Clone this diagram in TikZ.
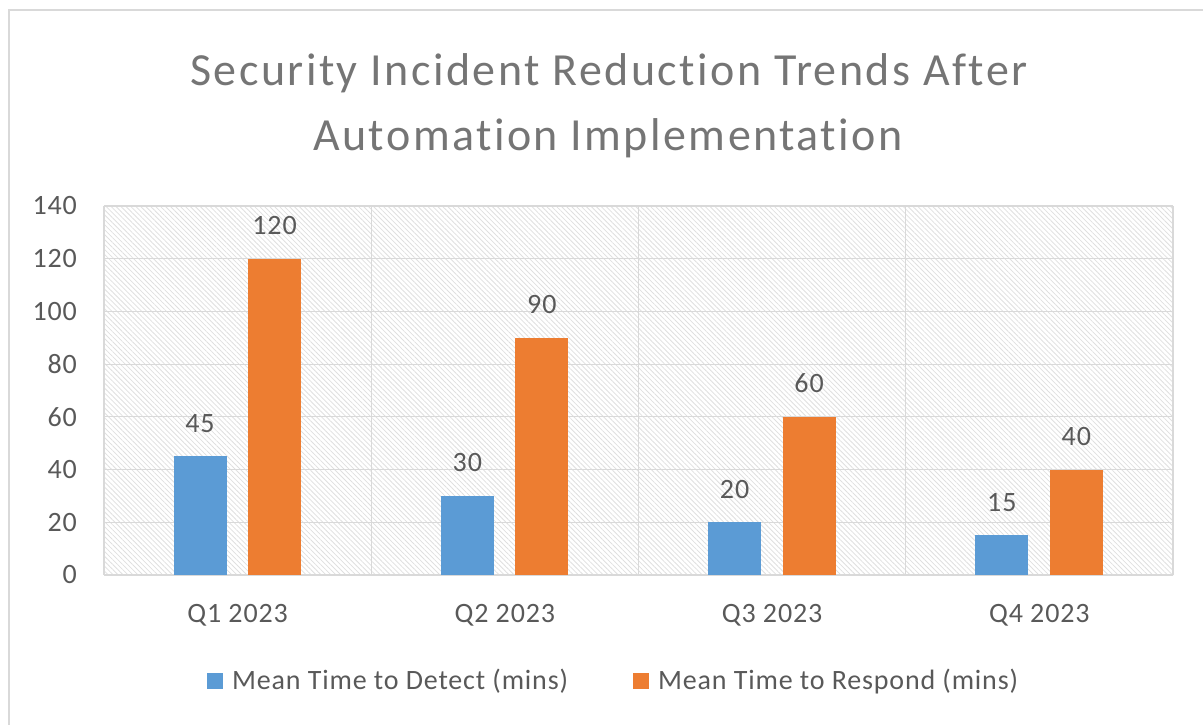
\documentclass[tikz,border=0pt]{standalone}
\usepackage{fontspec}
\setmainfont{Carlito}[Ligatures=NoCommon,LetterSpace=3]
\newfontfamily\titlefont{Carlito}[Ligatures=NoCommon,LetterSpace=5.3]
\usetikzlibrary{patterns.meta}
\definecolor{detblue}{HTML}{5B9BD5}
\definecolor{resporange}{HTML}{ED7D31}
\definecolor{txtgray}{HTML}{595959}
\definecolor{titlegray}{HTML}{757575}
\definecolor{gridgray}{HTML}{D9D9D9}

\begin{document}
\begin{tikzpicture}[x=1pt,y=-1pt,
  gridline/.style={draw=gridgray,line width=1.2pt},
  ticklab/.style={font=\fontsize{28}{34}\selectfont,text=txtgray,inner sep=0pt},
  titlelab/.style={font=\titlefont\fontsize{46}{56}\selectfont,text=titlegray,inner sep=0pt,anchor=base},
  legkey/.style={minimum size=16pt,inner sep=0pt}]
  \useasboundingbox (0,0) rectangle (1203,724);
  % chart frame
  \draw[gridgray,line width=2.5pt] (9,10) rectangle (1220,740);
  \node[titlelab] (title1) at (609,85) {Security Incident Reduction Trends After};
  \node[titlelab] (title2) at (608,150) {Automation Implementation};
  % plot area
  \fill[pattern={Lines[angle=-45,distance=3.5pt,line width=0.8pt]},pattern color=gray!25]
    (104,206) rectangle (1173,575);
  \foreach \v in {0,20,...,140} {
    \draw[gridline] (104,{575-2.6357*\v}) -- (1173,{575-2.6357*\v});
    \node[ticklab,anchor=east] (tick\v) at (77,{575-2.6357*\v}) {\v};
  }
  \foreach \x in {104,371.25,638.5,905.75,1173}
    \draw[gridline] (\x,206) -- (\x,575);
  % bars
  \foreach \q/\d/\r [count=\i from 0] in {1/45/120,2/30/90,3/20/60,4/15/40} {
    \pgfmathsetmacro\cx{237.6+267.25*\i}
    \fill[detblue] (\cx-64,{575-2.6357*\d}) rectangle (\cx-11,575);
    \fill[resporange] (\cx+10.5,{575-2.6357*\r}) rectangle (\cx+63.5,575);
    \node[ticklab,anchor=base] (det\q) at (\cx-37.5,{575-2.6357*\d-24}) {\d};
    \node[ticklab,anchor=base] (resp\q) at (\cx+37,{575-2.6357*\r-24}) {\r};
    \node[ticklab,anchor=base] (cat\q) at (\cx,622) {Q\q{} 2023};
  }
  % legend
  \node[legkey,fill=detblue] (keydet) at (215,681) {};
  \node[ticklab,anchor=base west] (legdet) at (232,689) {Mean Time to Detect (mins)};
  \node[legkey,fill=resporange] (keyresp) at (641,681) {};
  \node[ticklab,anchor=base west] (legresp) at (658,689) {Mean Time to Respond (mins)};
\end{tikzpicture}
\end{document}
